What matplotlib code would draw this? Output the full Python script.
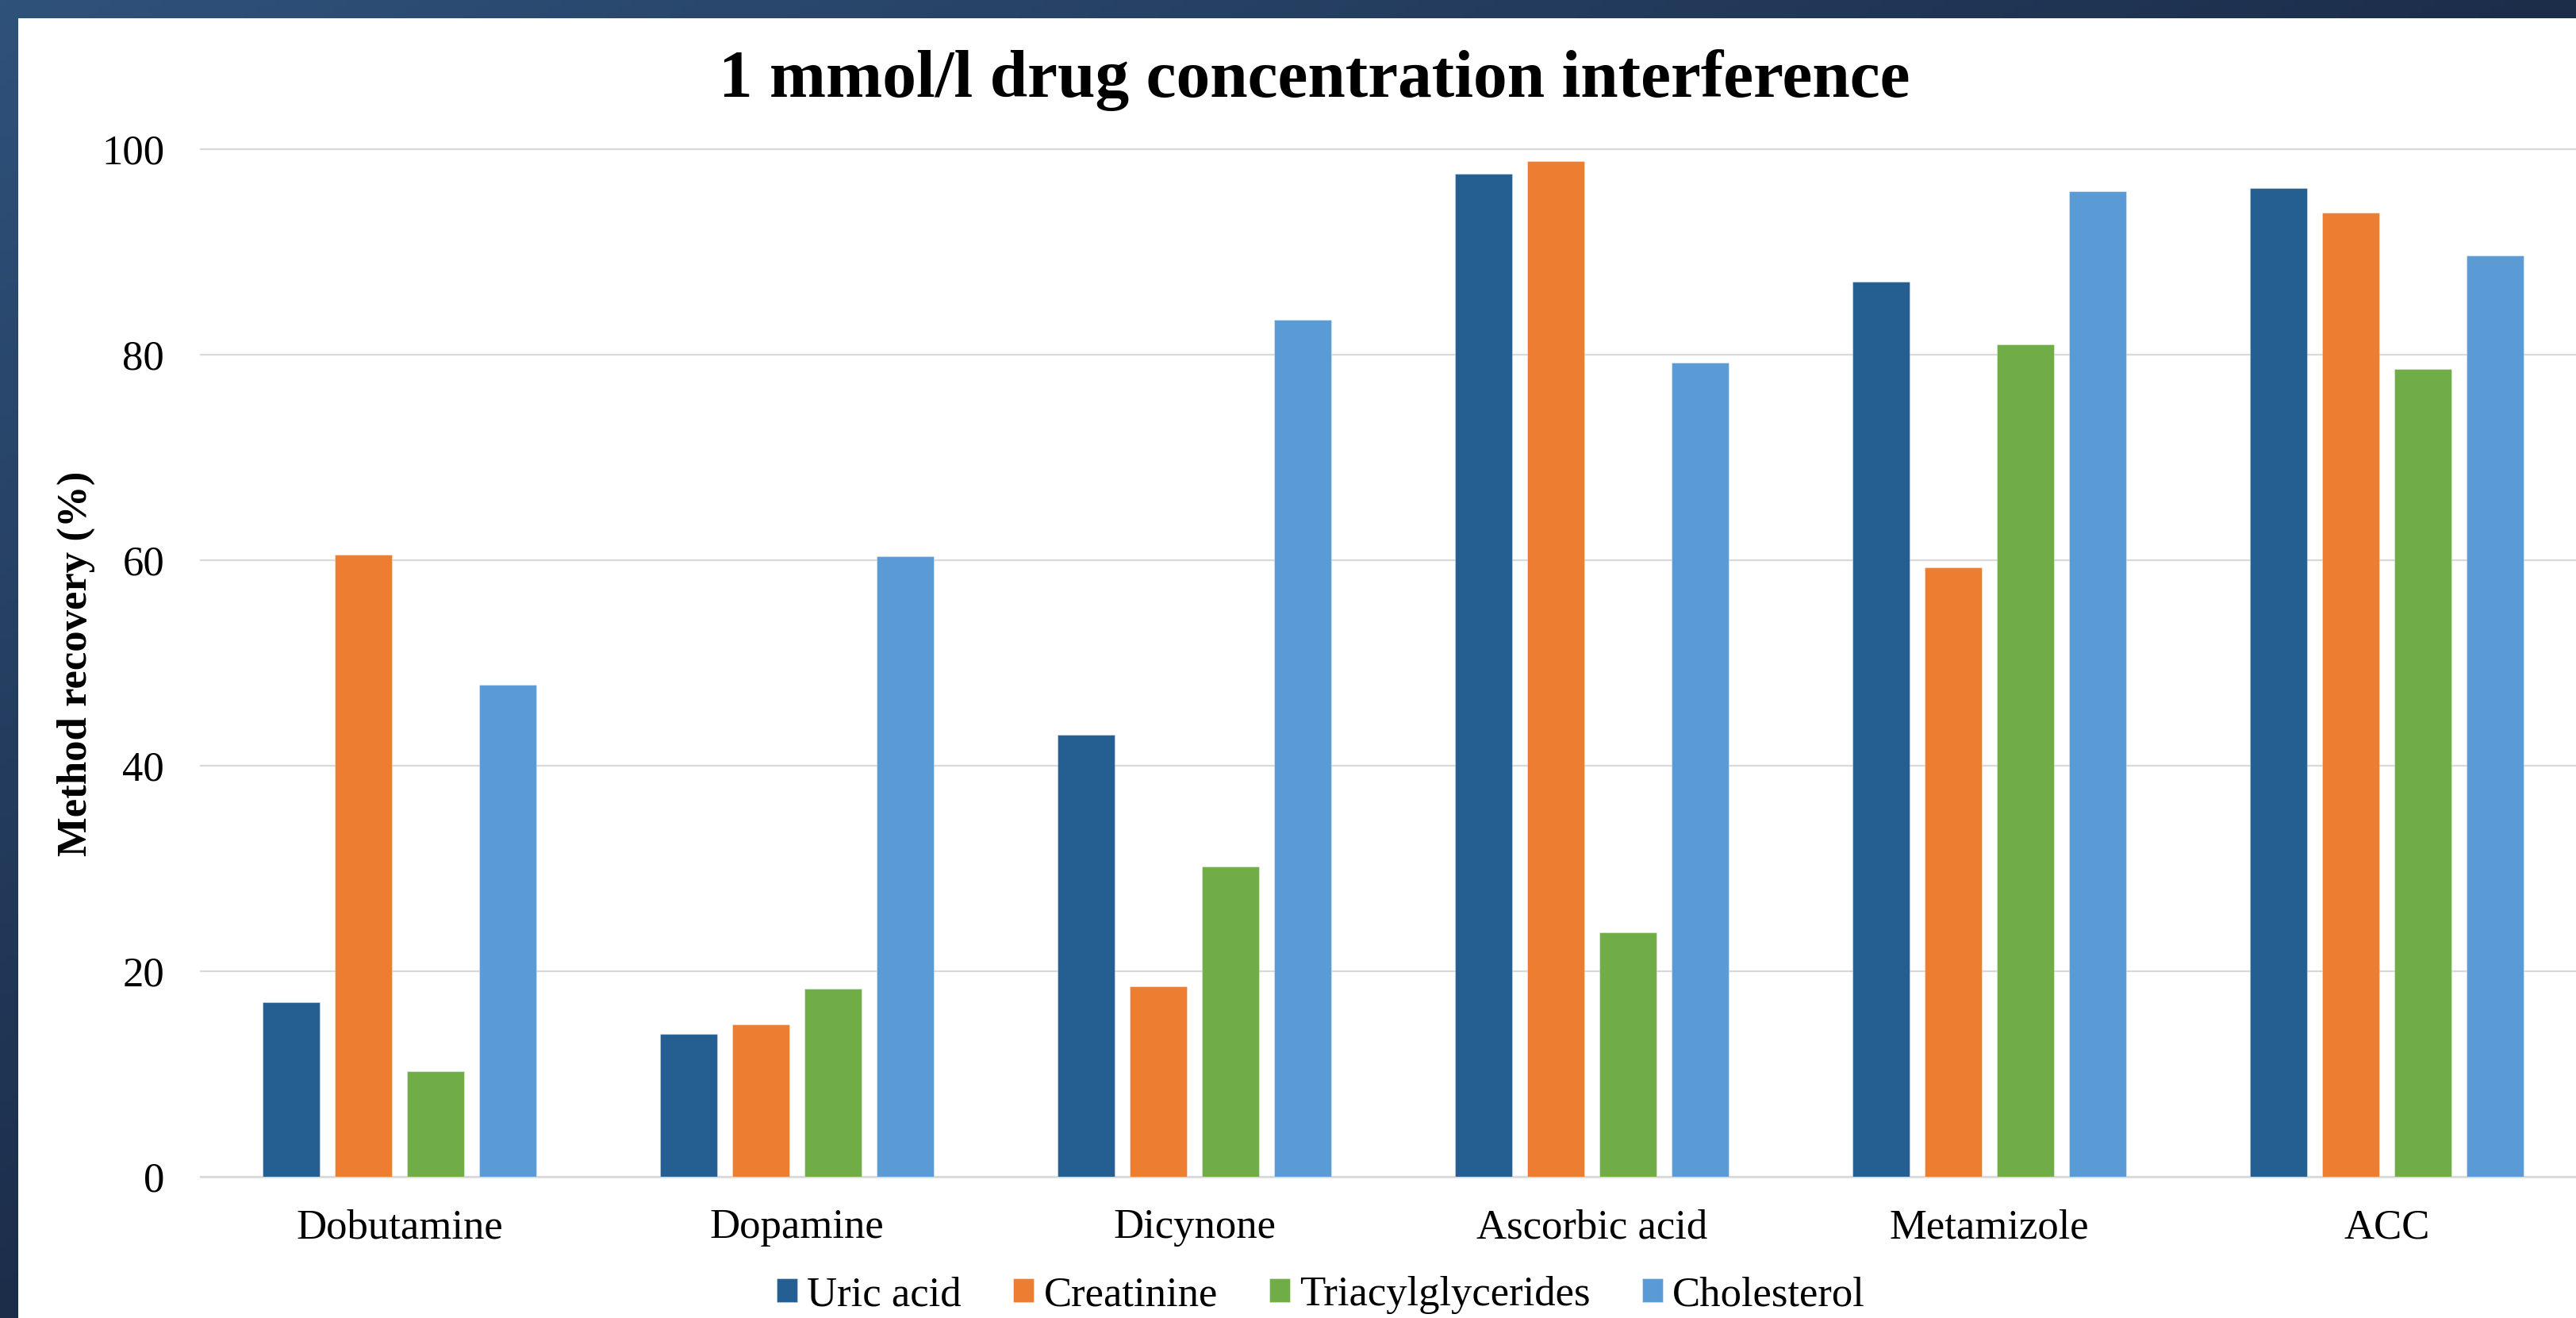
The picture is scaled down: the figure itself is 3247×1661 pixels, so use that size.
import numpy as np
import matplotlib
matplotlib.use("Agg")
import matplotlib.pyplot as plt
from matplotlib.patches import Rectangle

# ---------------- data ----------------
categories = ["Dobutamine", "Dopamine", "Dicynone", "Ascorbic acid", "Metamizole", "ACC"]
series_names = ["Uric acid", "Creatinine", "Triacylglycerides", "Cholesterol"]
uric_acid = [17.0, 13.9, 43.0, 97.6, 87.1, 96.2]
creatinine = [60.5, 14.8, 18.5, 98.8, 59.3, 93.8]
triacylglycerides = [10.3, 18.3, 30.2, 23.8, 81.0, 78.6]
cholesterol = [47.9, 60.4, 83.4, 79.2, 95.9, 89.6]
y_ticks = [0, 20, 40, 60, 80, 100]
title = "1 mmol/l drug concentration interference"
y_label = "Method recovery (%)"

colors = ["#255E91", "#ED7D31", "#70AD47", "#5B9BD5"]

# ---------------- figure ----------------
W, H = 3247, 1661
DPI = 100
fig = plt.figure(figsize=(W / DPI, H / DPI), dpi=DPI)
fig.patch.set_facecolor("white")

# gradient frame (top and left bands)
bg = fig.add_axes([0, 0, 1, 1], zorder=-5)
bg.set_axis_off()
nx, ny = 400, 200
xx, yy = np.meshgrid(np.linspace(0, 1, nx), np.linspace(0, 1, ny))
t = np.clip(xx + yy, 0, 1)
c0 = np.array([0x2F, 0x52, 0x7B]) / 255.0
c1 = np.array([0x1C, 0x2D, 0x4A]) / 255.0
img = c0[None, None, :] * (1 - t[..., None]) + c1[None, None, :] * t[..., None]
bg.imshow(img, extent=[0, 1, 0, 1], aspect="auto", origin="upper")
band = 23
bg.add_patch(Rectangle((band / W, 0), 1, 1 - band / H, facecolor="white", edgecolor="none"))
bg.set_xlim(0, 1)
bg.set_ylim(0, 1)

serif = ["Liberation Serif", "DejaVu Serif"]
plt.rcParams["font.family"] = serif

ax_left, ax_right = 253, 3247
ax_top, ax_bottom = 187.7, 1483
ax = fig.add_axes([ax_left / W, 1 - ax_bottom / H, (ax_right - ax_left) / W, (ax_bottom - ax_top) / H])
ax.set_facecolor("white")

x = np.arange(len(categories))
width = 0.1445
step = 0.182
all_series = [uric_acid, creatinine, triacylglycerides, cholesterol]
handles = []
for i, (vals, col, name) in enumerate(zip(all_series, colors, series_names)):
    b = ax.bar(x + (i - 1.5) * step, vals, width=width, color=col,
               edgecolor=(1, 1, 1, 0.35), linewidth=0.8, label=name, zorder=3)
    handles.append(b)

ax.set_xlim(-0.5, (ax_right - ax_left) / 501.0 - 0.5)
ax.set_ylim(0, 100)
ax.set_yticks(y_ticks)
ax.set_yticklabels([str(v) for v in y_ticks])
ax.set_xticks(x)
ax.set_xticklabels(categories)
ax.tick_params(axis="both", length=0, labelsize=38, colors="black")
ax.tick_params(axis="y", pad=33)
ax.tick_params(axis="x", pad=29)
ax.yaxis.grid(True, color="#D9D9D9", linewidth=1.6, zorder=0)
ax.set_axisbelow(True)
for s in ["top", "right", "left"]:
    ax.spines[s].set_visible(False)
ax.spines["bottom"].set_color("#D9D9D9")
ax.spines["bottom"].set_linewidth(1.8)
for gl in ax.get_ygridlines():
    gl.set_clip_on(False)

fig.text(1657 / W, 1 - 122 / H, title, ha="center", va="baseline",
         fontsize=61.5, fontweight="bold", family=serif)
fig.text(96 / W, 1 - 836 / H, y_label, rotation=90, ha="center", va="center",
         fontsize=38, fontweight="bold", family=serif)

fig.legend(handles=handles, labels=series_names, loc="center",
           bbox_to_anchor=(1665 / W, 1 - 1632 / H), ncol=4, frameon=False,
           fontsize=38, handlelength=0.5, handleheight=0.5,
           handletextpad=0.23, columnspacing=1.23, borderpad=0, borderaxespad=0)

fig.savefig("out.png", dpi=DPI, facecolor=fig.get_facecolor())
